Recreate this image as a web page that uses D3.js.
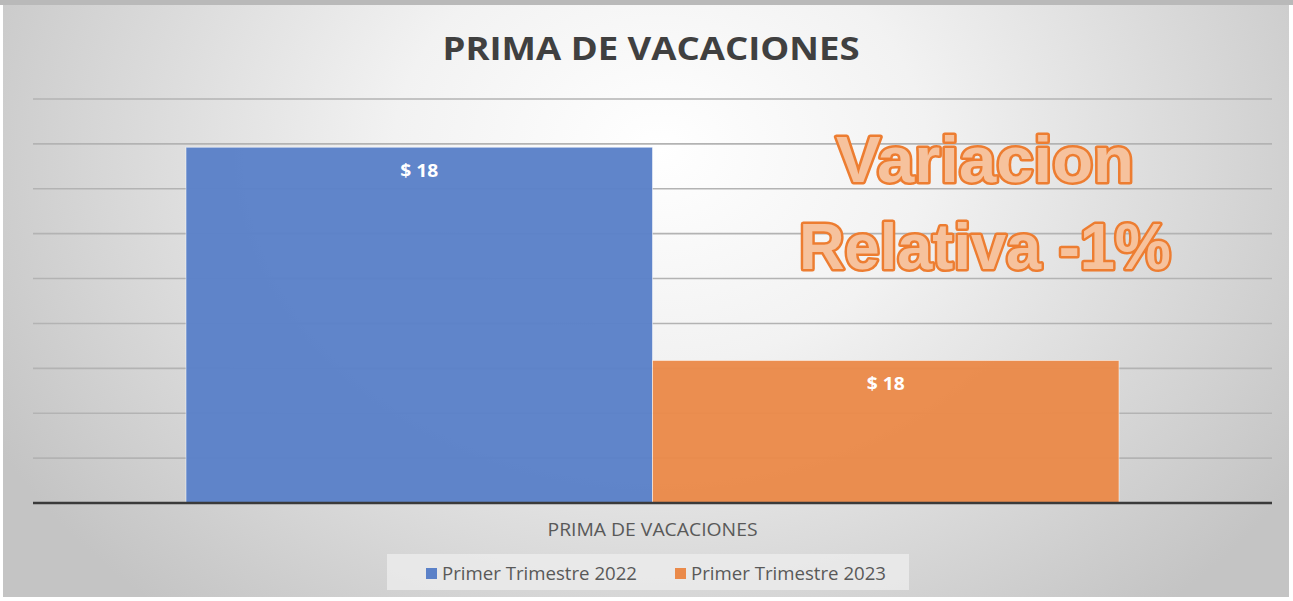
<!DOCTYPE html>
<html>
<head>
<meta charset="utf-8">
<script src="https://cdn.jsdelivr.net/npm/d3@7"></script>
<style>
  body { margin: 0; background: #ffffff; }
  svg { display: block; }
</style>
</head>
<body>
<div class="chart"></div>
<script>
const categories = ["PRIMA DE VACACIONES"];
const seriesNames = ["Primer Trimestre 2022", "Primer Trimestre 2023"];
const seriesValues = [17.917, 17.727];
const seriesColors = ["#5b81c8", "#ea8a4a"];
const yTicks = [17.6, 17.64, 17.68, 17.72, 17.76, 17.8, 17.84, 17.88, 17.92, 17.96];
const chartTitle = "PRIMA DE VACACIONES";
const noteLines = ["Variacion", "Relativa -1%"];

let svgW = 1293,
    svgH = 601,
    plotLeft = 33,
    plotRight = 1272,
    plotTop = 99,
    plotBottom = 503;

const svg = d3.select(".chart")
    .append("svg")
    .attr("width", svgW)
    .attr("height", svgH);

const defs = svg.append("defs");
const bg = defs.append("radialGradient")
    .attr("id", "bg")
    .attr("gradientUnits", "userSpaceOnUse")
    .attr("cx", 660).attr("cy", 150).attr("r", 760)
    .attr("gradientTransform", "translate(660,150) scale(1,0.8) translate(-660,-150)");
bg.append("stop").attr("offset", "0%").attr("stop-color", "#ffffff");
bg.append("stop").attr("offset", "35%").attr("stop-color", "#f2f2f2");
bg.append("stop").attr("offset", "100%").attr("stop-color", "#c4c4c4");

// background frame
svg.append("rect")
    .attr("x", 0).attr("y", 0)
    .attr("width", svgW).attr("height", svgH)
    .attr("fill", "#ffffff");
svg.append("rect")
    .attr("x", 3).attr("y", 5)
    .attr("width", 1286).attr("height", 592)
    .attr("fill", "url(#bg)");
svg.append("rect")
    .attr("x", 0).attr("y", 0)
    .attr("width", svgW).attr("height", 5)
    .attr("fill", "#b9b9b9");

// scales
const x0 = d3.scaleBand()
    .domain(categories)
    .range([plotLeft, plotRight])
    .paddingInner(0)
    .paddingOuter(0.164);

const x1 = d3.scaleBand()
    .domain(seriesNames)
    .range([0, x0.bandwidth()]);

const y = d3.scaleLinear()
    .domain([17.6, 17.96])
    .range([plotBottom, plotTop]);

// gridlines
svg.append("g")
    .selectAll("line")
    .data(yTicks.slice(1))
    .enter()
    .append("line")
    .attr("x1", plotLeft)
    .attr("x2", plotRight)
    .attr("y1", d => y(d))
    .attr("y2", d => y(d))
    .attr("stroke", "#b3b3b3")
    .attr("stroke-width", 1.6);

// bars
const bars = seriesNames.map((s, i) => ({ cat: categories[0], name: s, value: seriesValues[i], color: seriesColors[i] }));

svg.append("g")
    .selectAll("rect")
    .data(bars)
    .enter()
    .append("rect")
    .attr("x", d => x0(d.cat) + x1(d.name))
    .attr("y", d => y(d.value))
    .attr("width", x1.bandwidth())
    .attr("height", d => y(17.6) - y(d.value))
    .attr("fill", d => d.color)
    .attr("fill-opacity", 0.97)
    .attr("stroke", "#ffffff")
    .attr("stroke-opacity", 0.5)
    .attr("stroke-width", 1);

// data labels
svg.append("g")
    .selectAll("text")
    .data(bars)
    .enter()
    .append("text")
    .attr("x", d => x0(d.cat) + x1(d.name) + x1.bandwidth() / 2)
    .attr("y", d => y(d.value) + 30)
    .attr("text-anchor", "middle")
    .attr("font-family", "'Open Sans', sans-serif")
    .attr("font-weight", "bold")
    .attr("font-size", 18)
    .attr("textLength", 38)
    .attr("lengthAdjust", "spacingAndGlyphs")
    .attr("fill", "#ffffff")
    .text(d => "$ " + d3.format(".0f")(d.value));

// axis line
const xAxis = svg.append("g")
    .attr("transform", `translate(0,${plotBottom})`)
    .call(d3.axisBottom(x0).tickSize(0).tickPadding(20));
xAxis.select(".domain")
    .attr("d", `M${plotLeft},0H${plotRight}`)
    .attr("stroke", "#3a3a3a")
    .attr("stroke-width", 2.5);
xAxis.selectAll("text")
    .attr("font-family", "'Open Sans', sans-serif")
    .attr("font-size", 18)
    .attr("textLength", 210)
    .attr("lengthAdjust", "spacingAndGlyphs")
    .attr("fill", "#595959");

// title
svg.append("text")
    .attr("x", 651)
    .attr("y", 60)
    .attr("text-anchor", "middle")
    .attr("font-family", "'Open Sans', sans-serif")
    .attr("font-weight", "bold")
    .attr("font-size", 32)
    .attr("fill", "#404040")
    .attr("textLength", 417)
    .attr("lengthAdjust", "spacingAndGlyphs")
    .text(chartTitle);

// legend
svg.append("rect")
    .attr("x", 387).attr("y", 554)
    .attr("width", 522).attr("height", 36)
    .attr("fill", "#ececec")
    .attr("fill-opacity", 0.8);

const legendX = [426, 675];
const legend = svg.append("g")
    .selectAll("g")
    .data(seriesNames)
    .enter()
    .append("g")
    .attr("transform", (d, i) => `translate(${legendX[i]},573)`);
legend.append("rect")
    .attr("x", 0).attr("y", -5)
    .attr("width", 11).attr("height", 11)
    .attr("fill", (d, i) => seriesColors[i]);
legend.append("text")
    .attr("x", 16)
    .attr("y", 7)
    .attr("font-family", "'Open Sans', sans-serif")
    .attr("font-size", 18)
    .attr("textLength", 195)
    .attr("lengthAdjust", "spacingAndGlyphs")
    .attr("fill", "#595959")
    .text(d => d);

// overlay note
const noteY = [182, 269];
const noteW = [298, 372];
svg.append("g")
    .selectAll("text")
    .data(noteLines)
    .enter()
    .append("text")
    .attr("x", 985)
    .attr("y", (d, i) => noteY[i])
    .attr("text-anchor", "middle")
    .attr("font-family", "'Liberation Sans', Arial, sans-serif")
    .attr("font-weight", "bold")
    .attr("font-size", 64)
    .attr("textLength", (d, i) => noteW[i])
    .attr("lengthAdjust", "spacingAndGlyphs")
    .attr("fill", "#f6c29d")
    .attr("stroke", "#ed7d31")
    .attr("stroke-width", 5)
    .attr("stroke-linejoin", "round")
    .attr("paint-order", "stroke")
    .text(d => d);
</script>
</body>
</html>
